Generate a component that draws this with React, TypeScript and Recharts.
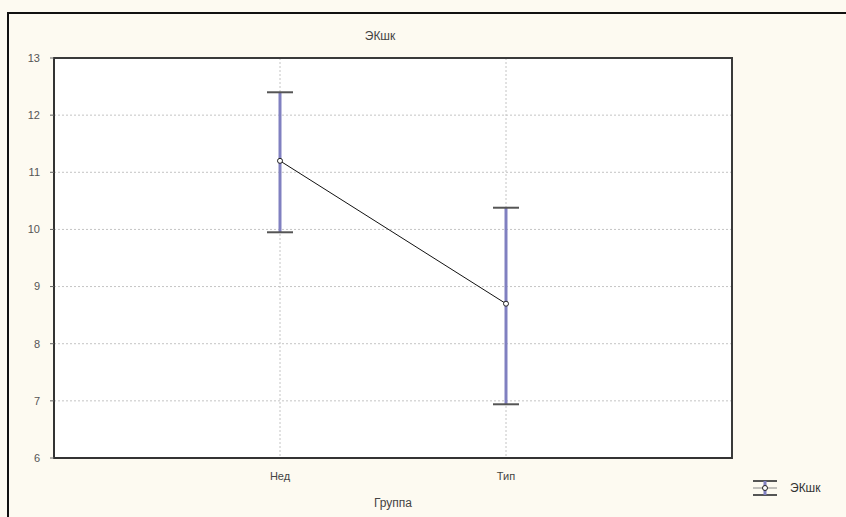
import React from 'react';
import {
  ComposedChart, Line, Scatter, XAxis, YAxis, CartesianGrid, ErrorBar, ReferenceArea,
} from 'recharts';

const categories = ['Нед', 'Тип'];
const categoryPositions = [1, 2];
const means = [11.2, 8.7];
const upper = [12.4, 10.38];
const lower = [9.95, 6.94];
const yTicks = [6, 7, 8, 9, 10, 11, 12, 13];
const title = 'ЭКшк';
const seriesName = 'ЭКшк';
const xLabel = 'Группа';

const data = categories.map((name, i) => ({
  x: categoryPositions[i],
  name,
  mean: means[i],
  hi: upper[i],
  lo: lower[i],
  err: [means[i] - lower[i], upper[i] - means[i]],
}));

const FONT = '"Liberation Sans", Arial, sans-serif';

const Cap = (props: any) => {
  const { cx, cy } = props;
  if (cx == null || cy == null) return null;
  return <line x1={cx - 13} x2={cx + 13} y1={cy} y2={cy} stroke="#555" strokeWidth={2} />;
};

const LegendBox = () => (
  <div style={{ position: 'absolute', left: 750, top: 478, display: 'flex', alignItems: 'center', fontFamily: FONT, fontSize: 12, color: '#333' }}>
    <svg width={30} height={20}>
      <line x1={3} x2={27} y1={3} y2={3} stroke="#555" strokeWidth={2} />
      <line x1={3} x2={27} y1={17} y2={17} stroke="#555" strokeWidth={2} />
      <line x1={15} x2={15} y1={3} y2={17} stroke="#8080c0" strokeWidth={3} />
      <line x1={3} x2={27} y1={10} y2={10} stroke="#888" strokeWidth={1} />
      <circle cx={15} cy={10} r={2.5} fill="#fff" stroke="#222" strokeWidth={1} />
    </svg>
    <span style={{ marginLeft: 10 }}>{seriesName}</span>
  </div>
);

export default function App() {
  return (
    <div style={{ position: 'absolute', left: 0, top: 0, width: 846, height: 517, background: '#fdfaf1', overflow: 'hidden' }}>
      <div style={{ position: 'absolute', left: 7, top: 12, width: 2, height: 517, background: '#111' }} />
      <div style={{ position: 'absolute', left: 7, top: 12, width: 846, height: 2, background: '#111' }} />
      <div style={{ position: 'absolute', left: 280, width: 200, top: 29, textAlign: 'center', fontFamily: FONT, fontSize: 12, color: '#444' }}>
        {title}
      </div>
      <ComposedChart
        width={846}
        height={517}
        data={data}
        margin={{ top: 58, right: 114, bottom: 0, left: 0 }}
        style={{ position: 'absolute', left: 0, top: 0 }}
      >
        <CartesianGrid fill="#ffffff" stroke="#c4c4c4" strokeDasharray="2 2" />
        <XAxis
          dataKey="x"
          type="number"
          domain={[0, 3]}
          ticks={categoryPositions}
          tickFormatter={(v: number) => categories[categoryPositions.indexOf(v)] ?? ''}
          height={59}
          axisLine={{ stroke: '#333', strokeWidth: 2 }}
          tickLine={false}
          tick={{ fontFamily: FONT, fontSize: 11, fill: '#444' }}
          tickMargin={8}
          label={{ value: xLabel, position: 'insideBottom', offset: 10, fontFamily: FONT, fontSize: 12, fill: '#444' }}
        />
        <YAxis
          type="number"
          domain={[6, 13]}
          ticks={yTicks}
          width={54}
          axisLine={{ stroke: '#333', strokeWidth: 2 }}
          tickSize={4}
          tickLine={{ stroke: '#666' }}
          tick={{ fontFamily: FONT, fontSize: 11, fill: '#555' }}
          tickMargin={10}
        />
        <ReferenceArea x1={0} x2={3} y1={6} y2={13} fill="none" stroke="#3a3a3a" strokeWidth={2} ifOverflow="visible" />
        <Line
          dataKey="mean"
          name={seriesName}
          stroke="#111"
          strokeWidth={1}
          isAnimationActive={false}
          dot={{ r: 2.5, fill: '#fff', stroke: '#222', strokeWidth: 1 }}
        >
          <ErrorBar dataKey="err" width={0} stroke="#8080c0" strokeWidth={3} direction="y" />
        </Line>
        <Scatter dataKey="hi" shape={<Cap />} isAnimationActive={false} legendType="none" />
        <Scatter dataKey="lo" shape={<Cap />} isAnimationActive={false} legendType="none" />
      </ComposedChart>
      <LegendBox />
    </div>
  );
}
